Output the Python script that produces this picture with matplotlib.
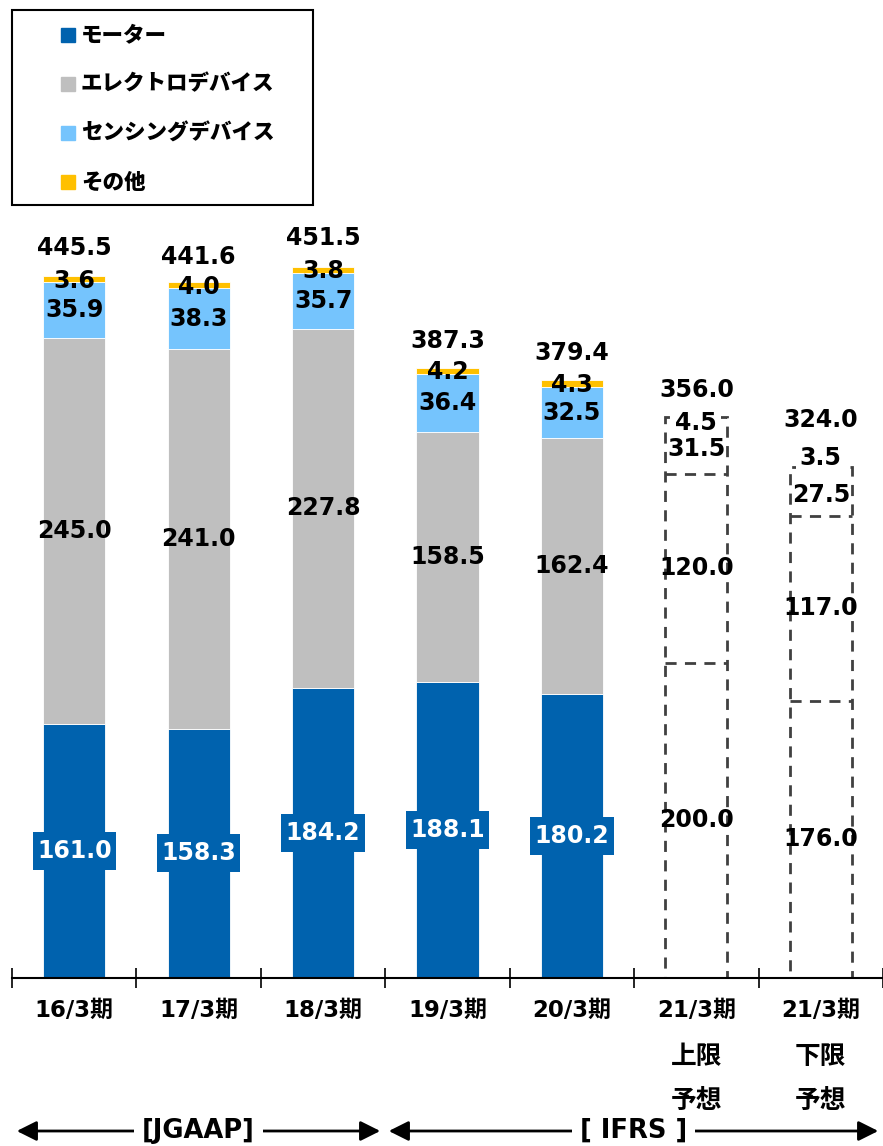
import numpy as np
import matplotlib
from matplotlib import pyplot as plt
from matplotlib.patches import Rectangle, FancyArrowPatch

matplotlib.use("Agg")

plt.rcParams["font.family"] = ["DejaVu Sans", "Noto Sans CJK JP"]
plt.rcParams["font.weight"] = "bold"

# data (億円)
categories = ["16/3期", "17/3期", "18/3期", "19/3期", "20/3期",
              "21/3期\n上限\n予想", "21/3期\n下限\n予想"]
motor = [161.0, 158.3, 184.2, 188.1, 180.2, 200.0, 176.0]
electro = [245.0, 241.0, 227.8, 158.5, 162.4, 120.0, 117.0]
sensing = [35.9, 38.3, 35.7, 36.4, 32.5, 31.5, 27.5]
other = [3.6, 4.0, 3.8, 4.2, 4.3, 4.5, 3.5]
totals = [445.5, 441.6, 451.5, 387.3, 379.4, 356.0, 324.0]
is_forecast = [False, False, False, False, False, True, True]

series_names = ["モーター", "エレクトロデバイス", "センシングデバイス", "その他"]
colors = ["#0062AE", "#BFBFBF", "#75C4FD", "#FFC000"]

# label nudges (data units)
total_dy = [18, 16, 18, 17, 17, 17, 30]
other_dy = [-3, -3, -3, -3, -3, -3.6, 6]

W, H = 883, 1146
fig = plt.figure(figsize=(W / 100, H / 100), dpi=100)


def fx(x):
    return x / W


def fy(y):
    return 1 - y / H


ax = fig.add_axes([fx(12), fy(978), fx(883) - fx(12), fy(1) - fy(978)])
x = np.arange(len(categories))
bw = 0.5
dash = (0, (4, 3))
edge = "#404040"
num_fs = 17

for i in x:
    m, e, s, o = motor[i], electro[i], sensing[i], other[i]
    if not is_forecast[i]:
        ax.bar(i, m, bw, color=colors[0], edgecolor="white", linewidth=0.6, zorder=2)
        ax.bar(i, e, bw, bottom=m, color=colors[1], edgecolor="white", linewidth=0.6, zorder=2)
        ax.bar(i, s, bw, bottom=m + e, color=colors[2], edgecolor="white", linewidth=0.6, zorder=2)
        ax.bar(i, o, bw, bottom=m + e + s, color=colors[3], edgecolor="white", linewidth=0.6, zorder=2)
        # label box wider than the bar
        ax.add_patch(Rectangle((i - 0.335, m / 2 - 12), 0.67, 24,
                               facecolor=colors[0], edgecolor="none", zorder=3))
        ax.text(i, m / 2, f"{m:.1f}", ha="center", va="center", color="white",
                fontsize=num_fs, fontweight="bold", zorder=4)
    else:
        ax.bar(i, totals[i], bw, fill=False, edgecolor=edge,
               linewidth=2, linestyle=dash, zorder=2)
        ax.hlines([m, m + e], i - bw / 2, i + bw / 2, colors=edge,
                  linewidth=2, linestyles=dash, zorder=2)
        ax.text(i, m / 2, f"{m:.1f}", ha="center", va="center", color="black",
                fontsize=num_fs, fontweight="bold", zorder=4)
    ax.text(i, m + e / 2, f"{e:.1f}", ha="center", va="center",
            fontsize=num_fs, fontweight="bold", zorder=4)
    ax.text(i, m + e + s / 2, f"{s:.1f}", ha="center", va="center",
            fontsize=num_fs, fontweight="bold", zorder=4)
    kw = {}
    if is_forecast[i]:
        kw["bbox"] = dict(boxstyle="square,pad=0.15", fc="white", ec="none")
    ax.text(i, totals[i] + other_dy[i], f"{o:.1f}", ha="center", va="center",
            fontsize=num_fs, fontweight="bold", zorder=4, **kw)
    ax.text(i, totals[i] + total_dy[i], f"{totals[i]:.1f}", ha="center", va="center",
            fontsize=num_fs, fontweight="bold", zorder=4)

ax.set_xlim(-0.5, len(categories) - 0.5)
ax.set_ylim(0, 620)
for side in ["top", "right", "left"]:
    ax.spines[side].set_visible(False)
ax.spines["bottom"].set_linewidth(1.5)
ax.spines["bottom"].set_zorder(3)
ax.set_yticks([])
ax.set_xticks(x)
ax.set_xticklabels([c.split("\n")[0] for c in categories], fontsize=16.5, fontweight="bold")
ax.tick_params(axis="x", which="major", length=0, pad=15)
ax.set_xticks(np.arange(-0.5, len(categories), 1), minor=True)
ax.tick_params(axis="x", which="minor", length=15, width=1.2, direction="inout")

# extra lines of the forecast labels (CJK set a little larger)
for i, c in enumerate(categories):
    for k, line in enumerate(c.split("\n")[1:]):
        ax.annotate(line, xy=(i, 0), xycoords="data",
                    xytext=(0, -79 - 43 * k), textcoords="offset pixels",
                    ha="center", va="center", fontsize=18.5, fontweight="bold",
                    family="Noto Sans CJK JP", annotation_clip=False)

# legend box
fig.patches.append(Rectangle((fx(12), fy(205)), fx(313) - fx(12), fy(10) - fy(205),
                             transform=fig.transFigure, fill=False,
                             edgecolor="black", linewidth=1.5))
legend_y = [35, 84, 133, 182]
for name, c, ly in zip(series_names, colors, legend_y):
    fig.patches.append(Rectangle((fx(61), fy(ly + 7)), fx(14), fy(0) - fy(14),
                                 transform=fig.transFigure, color=c))
    fig.text(fx(81), fy(ly), name, fontsize=15.5, fontweight="heavy",
             family="Noto Sans CJK JP", ha="left", va="center")

# accounting standard arrows
arrow_y = fy(1131)
for x0, x1, label in [(14, 383, "[JGAAP]"), (386, 881, "[ IFRS ]")]:
    fig.add_artist(FancyArrowPatch(
        (fx(x0), arrow_y), (fx(x1), arrow_y), transform=fig.transFigure,
        arrowstyle="<|-|>,head_length=8,head_width=4", mutation_scale=1.5,
        color="black", linewidth=2))
    fig.text(fx((x0 + x1) / 2), arrow_y, label, fontsize=18.5, fontweight="bold",
             ha="center", va="center",
             bbox=dict(boxstyle="square,pad=0.3", fc="white", ec="none"))

fig.savefig("out.png", dpi=100)
plt.close(fig)
